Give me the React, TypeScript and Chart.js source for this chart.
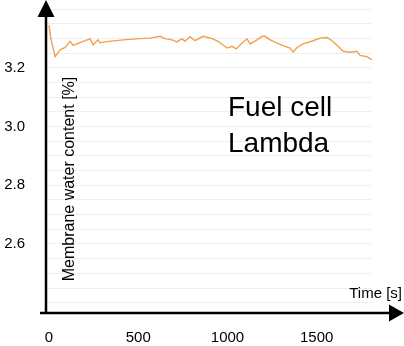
import React, { useEffect, useRef } from "react";
import { Chart, registerables } from "chart.js";

Chart.register(...registerables);

// Time [s]
const times: number[] = [
  0, 10, 34, 62, 90, 118, 135, 191, 230, 247, 275, 286, 325, 415, 510, 566, 622, 650,
  689, 717, 745, 762, 790, 818, 863, 914, 947, 998, 1026, 1048, 1082, 1110, 1127, 1166,
  1194, 1211, 1239, 1278, 1323, 1351, 1368, 1390, 1424, 1480, 1519, 1558, 1586, 1620,
  1648, 1687, 1726, 1743, 1782, 1810,
];
// Membrane water content [%]
const water: number[] = [
  3.345, 3.3, 3.238, 3.261, 3.269, 3.29, 3.276, 3.29, 3.298, 3.278, 3.295, 3.285, 3.289,
  3.295, 3.299, 3.301, 3.307, 3.299, 3.295, 3.288, 3.299, 3.29, 3.306, 3.292, 3.307,
  3.299, 3.29, 3.267, 3.273, 3.264, 3.284, 3.298, 3.281, 3.295, 3.307, 3.307, 3.295,
  3.284, 3.273, 3.267, 3.253, 3.269, 3.281, 3.292, 3.301, 3.303, 3.292, 3.273, 3.256,
  3.253, 3.256, 3.242, 3.238, 3.227,
];
const xTickValues: number[] = [0, 500, 1000, 1500];
const yTickLabels: number[] = [2.6, 2.8, 3.0, 3.2];
const yGridValues: number[] = [
  2.4, 2.45, 2.5, 2.55, 2.6, 2.65, 2.7, 2.75, 2.8, 2.85, 2.9, 2.95, 3.0, 3.05, 3.1,
  3.15, 3.2, 3.25, 3.3, 3.35, 3.4,
];
const xTitle = "Time [s]";
const yTitle = "Membrane water content [%]";
const noteLines: string[] = ["Fuel cell", "Lambda"];

const FONT = "'Liberation Sans', Arial, sans-serif";

const overlay = {
  id: "overlay",
  afterDraw(chart: any) {
    const ctx = chart.ctx as CanvasRenderingContext2D;
    const area = chart.chartArea;
    ctx.save();
    ctx.strokeStyle = "#000";
    ctx.fillStyle = "#000";
    ctx.lineWidth = 2.5;
    // y axis
    ctx.beginPath();
    ctx.moveTo(area.left, area.bottom + 1);
    ctx.lineTo(area.left, 12);
    ctx.stroke();
    ctx.beginPath();
    ctx.moveTo(area.left, 0);
    ctx.lineTo(area.left - 8.5, 17);
    ctx.lineTo(area.left + 8.5, 17);
    ctx.closePath();
    ctx.fill();
    // x axis
    ctx.beginPath();
    ctx.moveTo(area.left - 6, area.bottom);
    ctx.lineTo(392, area.bottom);
    ctx.stroke();
    ctx.beginPath();
    ctx.moveTo(404, area.bottom);
    ctx.lineTo(389, area.bottom - 8.5);
    ctx.lineTo(389, area.bottom + 8.5);
    ctx.closePath();
    ctx.fill();

    // axis titles
    ctx.font = `15px ${FONT}`;
    ctx.textAlign = "right";
    ctx.textBaseline = "alphabetic";
    ctx.fillText(xTitle, 402, 298);

    ctx.save();
    ctx.font = `16px ${FONT}`;
    ctx.translate(74, 179);
    ctx.rotate(-Math.PI / 2);
    ctx.textAlign = "center";
    ctx.fillText(yTitle, 0, 0);
    ctx.restore();

    // note
    ctx.font = `28px ${FONT}`;
    ctx.textAlign = "left";
    noteLines.forEach((t, i) => ctx.fillText(t, 228, 116 + i * 36));
    ctx.restore();
  },
};

export default function App() {
  const ref = useRef<HTMLCanvasElement | null>(null);
  useEffect(() => {
    if (!ref.current) return;
    const chart = new Chart(ref.current, {
      type: "line",
      data: {
        datasets: [
          {
            data: times.map((t, i) => ({ x: t, y: water[i] })),
            borderColor: "rgba(238,150,60,0.9)",
            borderWidth: 1.4,
            pointRadius: 0,
            tension: 0,
            fill: false,
          },
        ],
      },
      options: {
        animation: false,
        responsive: false,
        layout: { padding: { top: 9, right: 32, left: 0, bottom: 0 } },
        plugins: { legend: { display: false }, tooltip: { enabled: false } },
        scales: {
          x: {
            type: "linear",
            min: -17,
            max: 1810,
            grid: { display: false },
            border: { display: false },
            afterBuildTicks: (scale: any) => {
              scale.ticks = xTickValues.map((v) => ({ value: v }));
            },
            afterFit: (scale: any) => {
              scale.height = 33;
              scale.paddingLeft = 0;
              scale.paddingRight = 0;
            },
            ticks: {
              font: { size: 15, family: FONT },
              color: "#000",
              padding: 8,
              maxRotation: 0,
              autoSkip: false,
              callback: (v: any) => String(v),
            },
          },
          y: {
            type: "linear",
            min: 2.365,
            max: 3.4,
            border: { display: false },
            grid: { color: "#efefef", lineWidth: 1, drawTicks: false },
            afterBuildTicks: (scale: any) => {
              scale.ticks = yGridValues.map((v) => ({ value: v }));
            },
            afterFit: (scale: any) => {
              scale.width = 46;
              scale.paddingTop = 0;
              scale.paddingBottom = 0;
            },
            ticks: {
              font: { size: 15, family: FONT },
              color: "#000",
              padding: 21,
              autoSkip: false,
              callback: (v: any) => {
                const n = Number(v);
                return yTickLabels.some((l) => Math.abs(l - n) < 1e-6) ? n.toFixed(1) : "";
              },
            },
          },
        },
      },
      plugins: [overlay],
    });
    return () => chart.destroy();
  }, []);
  return (
    <div style={{ position: "fixed", left: 0, top: 0, width: 404, height: 346, background: "#fff" }}>
      <canvas ref={ref} width={404} height={346} style={{ display: "block" }} />
    </div>
  );
}
